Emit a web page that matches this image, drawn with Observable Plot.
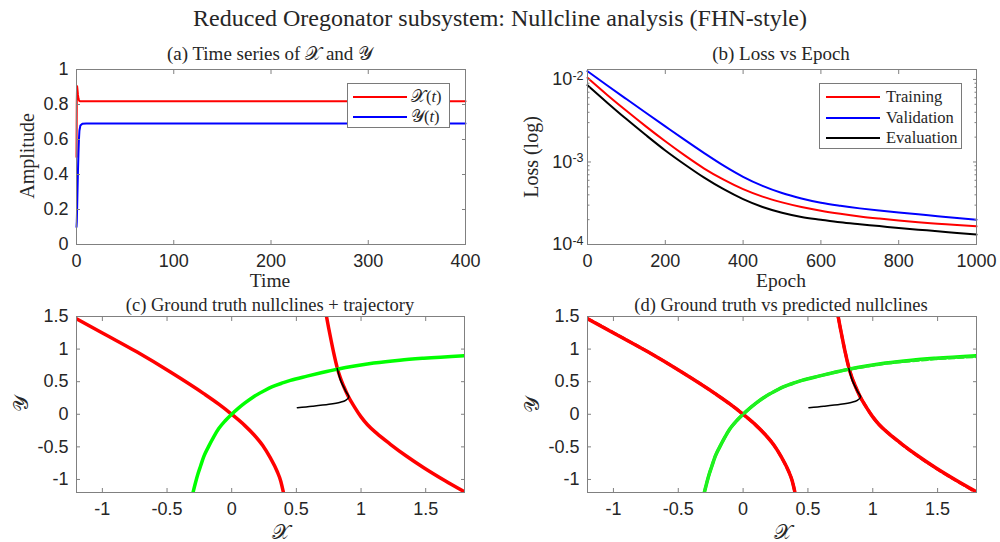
<!DOCTYPE html>
<html><head><meta charset="utf-8">
<script src="https://cdn.jsdelivr.net/npm/d3@7"></script>
<script src="https://cdn.jsdelivr.net/npm/@observablehq/plot@0.6"></script>
<style>
body{margin:0;background:#fff;}
#wrap{position:relative;width:1000px;height:542px;overflow:hidden;font-family:"Liberation Serif","Times New Roman",serif;color:#262626;}
.lab{position:absolute;white-space:nowrap;transform:translate(-50%,-50%);line-height:1;}
.rot{transform:translate(-50%,-50%) rotate(-90deg);}
.plot{position:absolute;}
.legend{position:absolute;background:#fff;border:1px solid #7a7a7a;box-sizing:border-box;font-size:16.5px;}
.legend .row{position:absolute;left:0;height:18px;display:flex;align-items:center;}
.legend .sw{display:inline-block;height:0;border-top:2px solid;}
</style></head><body><div id="wrap"></div>
<script>
// ---------- data ----------
// (a) time series
const tsT = [0, 0.3, 0.6, 1, 1.5, 2, 2.5, 3, 4, 6, 10, 400];
const tsX = [0.5, 0.82, 0.905, 0.885, 0.855, 0.835, 0.825, 0.82, 0.818, 0.818, 0.818, 0.818];
const tsY = [0.1, 0.13, 0.2, 0.3, 0.42, 0.52, 0.6, 0.65, 0.68, 0.69, 0.692, 0.692];
// (b) losses
const epochs = [0, 50, 100, 150, 200, 250, 300, 350, 400, 450, 500, 550, 600, 650, 700, 750, 800, 850, 900, 950, 1000];
const lossTrain = [0.01047, 0.00653, 0.00417, 0.0027, 0.00178, 0.0012, 0.000832, 0.00061, 0.000468, 0.00038, 0.000324, 0.000285, 0.000257, 0.000236, 0.000219, 0.000206, 0.000195, 0.000186, 0.000179, 0.000172, 0.000166];
const lossVal = [0.01259, 0.00851, 0.00579, 0.00395, 0.0027, 0.00185, 0.00128, 0.000902, 0.000661, 0.000513, 0.00042, 0.000361, 0.00032, 0.000294, 0.000274, 0.000258, 0.000244, 0.000232, 0.00022, 0.000209, 0.0002];
const lossEval = [0.00851, 0.00527, 0.00331, 0.00212, 0.00138, 0.000933, 0.000646, 0.000468, 0.000355, 0.000285, 0.000243, 0.000216, 0.0002, 0.000186, 0.000176, 0.000167, 0.000158, 0.000151, 0.000145, 0.000138, 0.000132];
const lossNames = ["Training", "Validation", "Evaluation"];
const lossColors = ["#ff0000", "#0000ff", "#000000"];
// (c)/(d) nullclines, ground truth
const redLx = [-1.2, -0.989, -0.731, -0.474, -0.216, -0.1, 0, 0.1, 0.17, 0.24, 0.299, 0.35, 0.38, 0.40];
const redLy = [1.465, 1.236, 0.954, 0.648, 0.317, 0.155, 0, -0.17, -0.31, -0.48, -0.67, -0.87, -1.03, -1.2];
const redRx = [0.733, 0.75, 0.77, 0.79, 0.815, 0.84, 0.866, 0.9, 0.95, 1.0, 1.05, 1.12, 1.227, 1.35, 1.485, 1.65, 1.8];
const redRy = [1.5, 1.32, 1.12, 0.93, 0.72, 0.56, 0.43, 0.28, 0.11, -0.04, -0.16, -0.29, -0.46, -0.64, -0.82, -1.02, -1.19];
const grnX = [-0.299, -0.28, -0.26, -0.24, -0.216, -0.18, -0.14, -0.10, -0.05, 0, 0.05, 0.10, 0.17, 0.25, 0.31, 0.40, 0.454, 0.583, 0.70, 0.815, 0.95, 1.098, 1.3, 1.485, 1.8];
const grnY = [-1.2, -1.05, -0.91, -0.79, -0.65, -0.50, -0.35, -0.22, -0.10, 0, 0.09, 0.17, 0.27, 0.36, 0.42, 0.485, 0.52, 0.585, 0.64, 0.69, 0.74, 0.785, 0.83, 0.86, 0.90];
// trajectory
const trjX = [0.508, 0.623, 0.752, 0.84, 0.881, 0.906, 0.886, 0.842, 0.816];
const trjY = [0.10, 0.122, 0.153, 0.185, 0.214, 0.265, 0.34, 0.52, 0.70];
// (d) predicted nullclines
const pRedLx = [-1.2, -0.989, -0.731, -0.474, -0.216, -0.1, 0, 0.1, 0.17, 0.24, 0.299, 0.35, 0.38, 0.40];
const pRedLy = [1.47, 1.24, 0.955, 0.65, 0.318, 0.156, 0, -0.17, -0.31, -0.48, -0.67, -0.87, -1.03, -1.2];
const pRedRx = [0.733, 0.75, 0.77, 0.79, 0.815, 0.84, 0.866, 0.9, 0.95, 1.0, 1.05, 1.12, 1.227, 1.35, 1.485, 1.65, 1.8];
const pRedRy = [1.5, 1.32, 1.12, 0.93, 0.72, 0.56, 0.43, 0.28, 0.11, -0.04, -0.16, -0.29, -0.465, -0.645, -0.825, -1.025, -1.2];
const pGrnX = [-0.299, -0.28, -0.26, -0.24, -0.216, -0.18, -0.14, -0.10, -0.05, 0, 0.05, 0.10, 0.17, 0.25, 0.31, 0.40, 0.454, 0.583, 0.70, 0.815, 0.95, 1.098, 1.3, 1.485, 1.8];
const pGrnY = [-1.2, -1.05, -0.91, -0.79, -0.65, -0.50, -0.35, -0.22, -0.10, 0, 0.09, 0.17, 0.27, 0.36, 0.42, 0.485, 0.52, 0.585, 0.64, 0.69, 0.735, 0.78, 0.82, 0.85, 0.885];

// ticks
const ticksAX = [0, 100, 200, 300, 400];
const ticksAY = [0, 0.2, 0.4, 0.6, 0.8, 1];
const ticksBX = [0, 200, 400, 600, 800, 1000];
const ticksBY = [1e-4, 1e-3, 1e-2];
const ticksNX = [-1, -0.5, 0, 0.5, 1, 1.5];
const ticksNY = [-1, -0.5, 0, 0.5, 1, 1.5];

// ---------- helpers ----------
const FRAME = "#808080", TXT = "#262626";
const FONT = "'Liberation Sans', Arial, sans-serif";
const fmt = d => String(d);
function box(xt, yt, fx, fy) {
  return [
    Plot.frame({stroke: FRAME, strokeWidth: 1}),
    Plot.axisX(xt, {anchor: "bottom", tickSize: -4, tickPadding: 14, tickFormat: fx, label: null, stroke: FRAME, fill: TXT}),
    Plot.axisX(xt, {anchor: "top", tickSize: -4, tickFormat: () => "", label: null, stroke: FRAME}),
    Plot.axisY(yt, {anchor: "left", tickSize: -4, tickPadding: 12, tickFormat: fy, label: null, stroke: FRAME, fill: TXT}),
    Plot.axisY(yt, {anchor: "right", tickSize: -4, tickFormat: () => "", label: null, stroke: FRAME})
  ];
}
const zip = (xs, ys) => xs.map((x, i) => ({x, y: ys[i]}));
const wrap = document.getElementById("wrap");
function place(el, left, top) { el.classList.add("plot"); el.style.left = left + "px"; el.style.top = top + "px"; wrap.appendChild(el); }
function label(html, x, y, size, rot) {
  const d = document.createElement("div");
  d.className = "lab" + (rot ? " rot" : "");
  d.style.left = x + "px"; d.style.top = y + "px"; d.style.fontSize = size + "px";
  d.innerHTML = html; wrap.appendChild(d);
}
const style = {fontSize: "18px", fontFamily: FONT, color: TXT, background: "transparent", overflow: "visible"};

// ---------- (a) ----------
const plotA = Plot.plot({
  width: 500, height: 250, marginLeft: 76, marginRight: 35, marginTop: 39, marginBottom: 36,
  style,
  x: {domain: [0, 400]}, y: {domain: [0, 1]},
  marks: [
    Plot.line(zip(tsT, tsX), {x: "x", y: "y", stroke: "#ff0000", strokeWidth: 2}),
    Plot.line(zip(tsT, tsY), {x: "x", y: "y", stroke: "#0000ff", strokeWidth: 2}),
    ...box(ticksAX, ticksAY, fmt, fmt)
  ]
});
place(plotA, 0, 30);

// ---------- (b) ----------
const lossRows = [];
[lossTrain, lossVal, lossEval].forEach((arr, k) => arr.forEach((v, i) => lossRows.push({e: epochs[i], v, s: lossNames[k]})));
const minor = [];
for (const p of [1e-4, 1e-3, 1e-2]) for (let m = 2; m <= 9; m++) { const v = m * p; if (v <= 0.0132) minor.push(v); }
const plotB = Plot.plot({
  width: 500, height: 250, marginLeft: 87, marginRight: 24, marginTop: 39, marginBottom: 36,
  style,
  x: {domain: [0, 1000]},
  y: {type: "log", domain: [1e-4, 0.0132]},
  color: {domain: lossNames, range: lossColors},
  marks: [
    Plot.line(lossRows, {x: "e", y: "v", stroke: "s", z: "s", strokeWidth: 2, curve: "monotone-x"}),
    Plot.frame({stroke: FRAME, strokeWidth: 1}),
    Plot.axisX(ticksBX, {anchor: "bottom", tickSize: -4, tickPadding: 14, tickFormat: fmt, label: null, stroke: FRAME, fill: TXT}),
    Plot.axisX(ticksBX, {anchor: "top", tickSize: -4, tickFormat: () => "", label: null, stroke: FRAME}),
    Plot.axisY(ticksBY, {anchor: "left", tickSize: -4, tickPadding: 8, tickFormat: d => "10^" + Math.round(Math.log10(d)), label: null, stroke: FRAME, fill: TXT}),
    Plot.axisY(ticksBY, {anchor: "right", tickSize: -4, tickFormat: () => "", label: null, stroke: FRAME}),
    Plot.axisY(minor, {anchor: "left", tickSize: -2.5, tickFormat: () => "", label: null, stroke: FRAME}),
    Plot.axisY(minor, {anchor: "right", tickSize: -2.5, tickFormat: () => "", label: null, stroke: FRAME})
  ]
});
plotB.querySelectorAll('g[aria-label="y-axis tick label"] text').forEach(t => {
  const s = t.textContent;
  if (!s.startsWith("10^")) return;
  const ex = s.slice(3);
  t.textContent = "10";
  const ts = document.createElementNS("http://www.w3.org/2000/svg", "tspan");
  ts.setAttribute("dy", "-0.45em"); ts.setAttribute("font-size", "12.5px"); ts.textContent = ex;
  t.appendChild(ts);
});
place(plotB, 500, 30);

// ---------- (c) / (d) ----------
function nullPlot(pred) {
  const C = "monotone-x";
  const marks = [
    Plot.line(zip(redLx, redLy), {x: "x", y: "y", stroke: "#ff0000", strokeWidth: 3.5, curve: C, clip: true}),
    Plot.line(zip(redRx, redRy), {x: "x", y: "y", stroke: "#ff0000", strokeWidth: 3.5, curve: C, clip: true}),
    Plot.line(zip(grnX, grnY), {x: "x", y: "y", stroke: "#00ff00", strokeWidth: 3.5, curve: C, clip: true})
  ];
  if (pred) {
    marks.push(
      Plot.line(zip(pRedLx, pRedLy), {x: "x", y: "y", stroke: "#ff0000", strokeWidth: 3, strokeDasharray: "6,3", curve: C, clip: true}),
      Plot.line(zip(pRedRx, pRedRy), {x: "x", y: "y", stroke: "#ff0000", strokeWidth: 3, strokeDasharray: "6,3", curve: C, clip: true}),
      Plot.line(zip(pGrnX, pGrnY), {x: "x", y: "y", stroke: "#22ee22", strokeWidth: 3, strokeDasharray: "6,3", curve: C, clip: true})
    );
  }
  marks.push(Plot.line(zip(trjX, trjY), {x: "x", y: "y", stroke: "#000", strokeWidth: 1.6, curve: "catmull-rom"}));
  marks.push(...box(ticksNX, ticksNY, fmt, fmt));
  return marks;
}
const plotC = Plot.plot({
  width: 500, height: 240, marginLeft: 76, marginRight: 36, marginTop: 26, marginBottom: 38,
  style, x: {domain: [-1.2, 1.8]}, y: {domain: [-1.2, 1.5]}, marks: nullPlot(false)
});
place(plotC, 0, 290);
const plotD = Plot.plot({
  width: 500, height: 240, marginLeft: 87, marginRight: 24, marginTop: 26, marginBottom: 38,
  style, x: {domain: [-1.2, 1.8]}, y: {domain: [-1.2, 1.5]}, marks: nullPlot(true)
});
place(plotD, 500, 290);

// ---------- text ----------
label("Reduced Oregonator subsystem: Nullcline analysis (FHN-style)", 500, 18, 24);
label("(a) Time series of 𝒳 and 𝒴", 270, 53, 19);
label("(b) Loss vs Epoch", 781, 53, 19);
label("(c) Ground truth nullclines + trajectory", 270, 305, 18.5);
label("(d) Ground truth vs predicted nullclines", 781, 305, 18.5);
label("Amplitude", 27, 156, 20, true);
label("Time", 270, 281, 19.5);
label("Loss (log)", 531, 157, 20, true);
label("Epoch", 781, 281, 19.5);
label("𝒴", 21, 404, 21, true);
label("𝒳", 281, 532, 21);
label("𝒴", 532, 405, 21, true);
label("𝒳", 783, 532, 21);

// ---------- legends ----------
function legend(x, y, w, h, items, sw0, sw1, tx, rowY) {
  const L = document.createElement("div");
  L.className = "legend";
  Object.assign(L.style, {left: x + "px", top: y + "px", width: w + "px", height: h + "px"});
  items.forEach((it, i) => {
    const r = document.createElement("div");
    r.className = "row";
    r.style.top = (rowY[i] - 9) + "px";
    r.style.left = sw0 + "px";
    r.innerHTML = `<span class="sw" style="width:${sw1 - sw0}px;border-color:${it.c}"></span><span style="margin-left:${tx - sw1}px">${it.t}</span>`;
    L.appendChild(r);
  });
  wrap.appendChild(L);
}
legend(347, 83, 103, 45, [{t: "𝒳(<i>t</i>)", c: "#ff0000"}, {t: "𝒴(<i>t</i>)", c: "#0000ff"}], 5, 59, 63, [13, 33]);
legend(819, 83, 143, 66, lossNames.map((t, i) => ({t, c: lossColors[i]})), 6, 60, 66, [13, 34, 54]);
</script></body></html>
